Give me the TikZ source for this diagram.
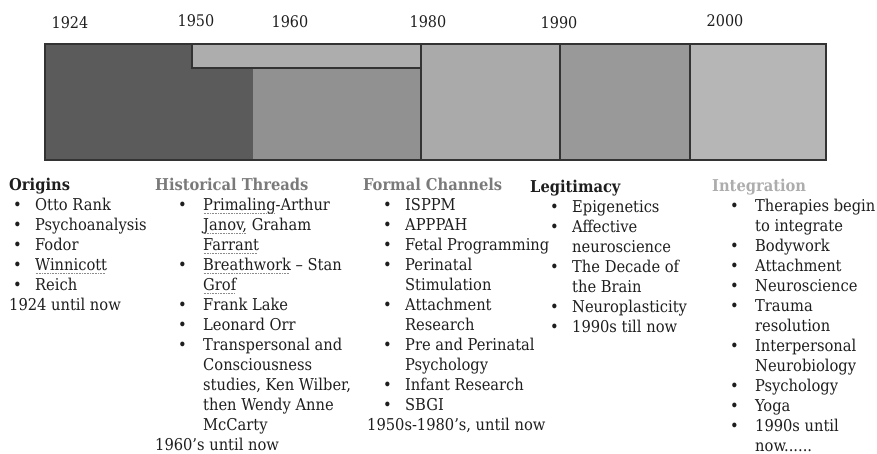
\documentclass[tikz,border=0pt]{standalone}
\usepackage{fontspec}
\setmainfont{DejaVu Serif Condensed}
\definecolor{darkseg}{HTML}{5B5B5B}
\definecolor{midseg}{HTML}{919191}
\definecolor{stripc}{HTML}{ADADAD}
\definecolor{lightA}{HTML}{AAAAAA}
\definecolor{midB}{HTML}{999999}
\definecolor{lightC}{HTML}{B6B6B6}
\definecolor{edgec}{HTML}{333333}
\definecolor{histc}{HTML}{7A7A7A}
\definecolor{integc}{HTML}{ADADAD}
\definecolor{textc}{HTML}{1E1E1E}
\newsavebox\sqbox
\newcommand\sqg[1]{\sbox\sqbox{#1}\rlap{\color{black!45}\raisebox{-3.5pt}{\hbox to \wd\sqbox{\leaders\hbox to 1.6pt{\hss\rule{0.9pt}{0.7pt}\hss}\hfill}}}\usebox\sqbox}
\newcommand\itm[2]{\hspace*{#1pt}\makebox[\dimexpr#2pt-#1pt\relax][l]{\textbullet}}
\newcommand\cont[1]{\hspace*{#1pt}}
\tikzset{
  edge/.style={draw=edgec, line width=1.5pt},
  yr/.style={inner sep=0pt, text=textc, font=\fontsize{16}{18}\selectfont},
  col/.style={inner sep=0pt, anchor=north west, align=left, text=textc, font=\fontsize{16.3}{20}\selectfont}
}
\begin{document}
\begin{tikzpicture}[x=1pt,y=-1pt]
\useasboundingbox (0,0) rectangle (877,454);
% bar
\fill[darkseg] (45,44) rectangle (253,160);
\fill[midseg] (253,68) rectangle (421,160);
\fill[stripc] (192,44) rectangle (421,68);
\fill[lightA] (421,44) rectangle (560,160);
\fill[midB] (560,44) rectangle (690,160);
\fill[lightC] (690,44) rectangle (826,160);
\draw[edge] (192,44) -- (192,68) -- (421,68);
\draw[edge] (421,44) -- (421,160);
\draw[edge] (560,44) -- (560,160);
\draw[edge] (690,44) -- (690,160);
\draw[edge] (45,44) rectangle (826,160);
% years
\node[yr] (y1924) at (70,23) {1924};
\node[yr] (y1950) at (196,21) {1950};
\node[yr] (y1960) at (290,22) {1960};
\node[yr] (y1980) at (428,22) {1980};
\node[yr] (y1990) at (559,23) {1990};
\node[yr] (y2000) at (725,21) {2000};
% columns
\node[col] (origins) at (9,178) {%
\textbf{Origins}\\
\itm{4}{26}Otto Rank\\
\itm{4}{26}Psychoanalysis\\
\itm{4}{26}Fodor\\
\itm{4}{26}\sqg{Winnicott}\\
\itm{4}{26}Reich\\
1924 until now};
\node[col] (hist) at (155,178) {%
\textcolor{histc}{\textbf{Historical Threads}}\\
\itm{23}{48}\sqg{Primaling}-Arthur\\
\cont{48}\sqg{Janov,} Graham\\
\cont{48}\sqg{Farrant}\\
\itm{23}{48}\sqg{Breathwork} – Stan\\
\cont{48}\sqg{Grof}\\
\itm{23}{48}Frank Lake\\
\itm{23}{48}Leonard Orr\\
\itm{23}{48}Transpersonal and\\
\cont{48}Consciousness\\
\cont{48}studies, Ken Wilber,\\
\cont{48}then Wendy Anne\\
\cont{48}McCarty\\
1960’s until now};
\node[col] (formal) at (363,178) {%
\textcolor{histc}{\textbf{Formal Channels}}\\
\itm{20}{42}ISPPM\\
\itm{20}{42}APPPAH\\
\itm{20}{42}Fetal Programming\\
\itm{20}{42}Perinatal\\
\cont{42}Stimulation\\
\itm{20}{42}Attachment\\
\cont{42}Research\\
\itm{20}{42}Pre and Perinatal\\
\cont{42}Psychology\\
\itm{20}{42}Infant Research\\
\itm{20}{42}SBGI\\
\cont{4}1950s-1980’s, until now};
\node[col] (legit) at (530,180) {%
\textbf{Legitimacy}\\
\itm{20}{42}Epigenetics\\
\itm{20}{42}Affective\\
\cont{42}neuroscience\\
\itm{20}{42}The Decade of\\
\cont{42}the Brain\\
\itm{20}{42}Neuroplasticity\\
\itm{20}{42}1990s till now};
\node[col] (integ) at (712,179) {%
\textcolor{integc}{\textbf{Integration}}\\[0pt]
\itm{18}{43}Therapies begin\\
\cont{43}to integrate\\
\itm{18}{43}Bodywork\\
\itm{18}{43}Attachment\\
\itm{18}{43}Neuroscience\\
\itm{18}{43}Trauma\\
\cont{43}resolution\\
\itm{18}{43}Interpersonal\\
\cont{43}Neurobiology\\
\itm{18}{43}Psychology\\
\itm{18}{43}Yoga\\
\itm{18}{43}1990s until\\
\cont{43}now......};
\end{tikzpicture}
\end{document}
